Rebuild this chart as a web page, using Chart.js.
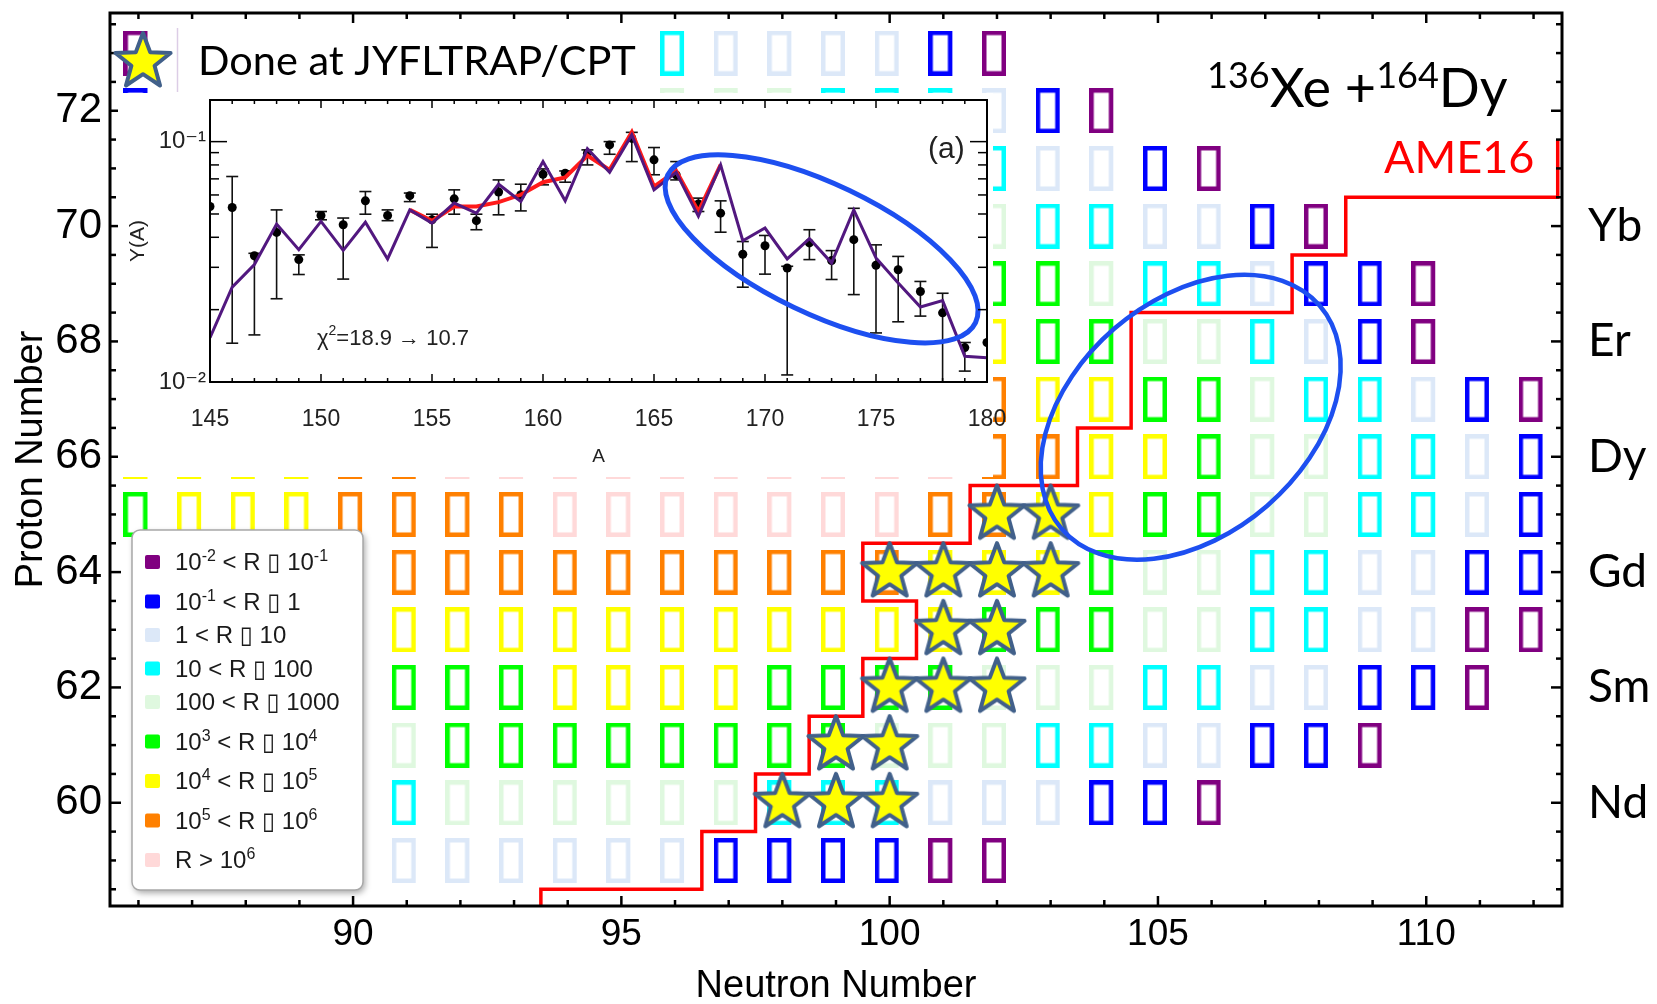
<!DOCTYPE html>
<html>
<head>
<meta charset="utf-8">
<title>136Xe + 164Dy production rates</title>
<script src="https://cdn.jsdelivr.net/npm/chart.js@4.4.1/dist/chart.umd.min.js"></script>
<style>
  html, body { margin: 0; padding: 0; background: #fff; }
  #wrap { position: relative; width: 1657px; height: 1004px; overflow: hidden; }
  #main { position: absolute; left: 0; top: 0; }
  #inset { position: absolute; left: 118px; top: 93px; }
</style>
</head>
<body>
<div id="wrap">
  <canvas id="main" width="1657" height="1004"></canvas>
  <canvas id="inset" width="900" height="384"></canvas>
</div>
<script>
// nuclide chart - one string per proton row, one letter per neutron number ('.' = no cell)
const rowZ     = [59, 60, 61, 62, 63, 64, 65, 66, 67, 68, 69, 70, 71, 72, 73];
const rowStart = [91, 91, 91, 91, 91, 91, 86, 86, 102, 102, 102, 102, 102, 86, 86];
const rowCells = [
  'LLLLLLBBBBPP',
  'CGGGGGGCCCLLLBBP',
  'GEEEEEEEEGGGCCLLBBP',
  'EEEYYYYEEEEGGGCCLLBBP',
  'YYYYYYYYYYYEEEGGCCLLPP',
  'OOOOOOOOOOYYYEGGCCLLBB',
  'EYYYOOOOKKKKKKKOOYYEEGGCCLB',
  'YYYYOOKKKKKKKKKKOOYYEGGCCLB',
  'OYYEEGCCLBP',
  'YEEGGCLBP',
  'EEGCCLBBP',
  'GCCLLBP',
  'CLLBP',
  'B.........GGGCCCLBP',
  'P.........CLLLLBP'
];

// rate classes
const rateKeys   = ['P', 'B', 'L', 'C', 'G', 'E', 'Y', 'O', 'K'];
const rateColors = ['#800080', '#0000ff', '#dce8f8', '#00ffff', '#dff8df', '#00ff00', '#ffff00', '#ff8000', '#ffd9d9'];
const rateLabels = [
  '10^{-2} < R ▯ 10^{-1}',
  '10^{-1} < R ▯ 1',
  '1 < R ▯ 10',
  '10 < R ▯ 100',
  '100 < R ▯ 1000',
  '10^{3} < R ▯ 10^{4}',
  '10^{4} < R ▯ 10^{5}',
  '10^{5} < R ▯ 10^{6}',
  'R > 10^{6}'
];

// masses measured at JYFLTRAP/CPT
const starN = [102, 103, 100, 101, 102, 103, 101, 102, 100, 101, 102, 99, 100, 98, 99, 100];
const starZ = [65, 65, 64, 64, 64, 64, 63, 63, 62, 62, 62, 61, 61, 60, 60, 60];

// AME16 known-mass boundary
const ameN = [93.5, 93.5, 96.5, 96.5, 97.5, 97.5, 98.5, 98.5, 99.5, 99.5, 100.5, 100.5, 99.5, 99.5,
              101.5, 101.5, 103.5, 103.5, 104.5, 104.5, 107.5, 107.5, 108.5, 108.5, 112.45, 112.45];
const ameZ = [58, 58.5, 58.5, 59.5, 59.5, 60.5, 60.5, 61.5, 61.5, 62.5, 62.5, 63.5, 63.5, 64.5,
              64.5, 65.5, 65.5, 66.5, 66.5, 68.5, 68.5, 69.5, 69.5, 70.5, 70.5, 71.5];

const neutronTicks = [90, 95, 100, 105, 110];
const protonTicks  = [60, 62, 64, 66, 68, 70, 72];
const elementZ     = [60, 62, 64, 66, 68, 70];
const elementNames = ['Nd', 'Sm', 'Gd', 'Dy', 'Er', 'Yb'];

// inset (a): mass yields Y(A)
const massA = [145, 146, 147, 148, 149, 150, 151, 152, 153, 154, 155, 156, 157, 158, 159, 160, 161, 162,
               163, 164, 165, 166, 167, 168, 169, 170, 171, 172, 173, 174, 175, 176, 177, 178, 179, 180];
const yieldExp = [0.0537, 0.0532, 0.0335, 0.0419, 0.0323, 0.0493, 0.0451, 0.0567, 0.0493, 0.0596, 0.0473, 0.0578,
                  0.0469, 0.0617, 0.0601, 0.0732, 0.0739, 0.0895, 0.0969, 0.1031, 0.0840, 0.0727, 0.0550, 0.0504,
                  0.0340, 0.0369, 0.0298, 0.0379, 0.0320, 0.0391, 0.0306, 0.0293, 0.0238, 0.0194, 0.0139, 0.0146];
const yieldErrHi = [null, 0.0716, 0.0343, 0.0520, 0.0338, 0.0512, 0.0481, 0.0620, 0.0520, 0.0611, 0.0499, 0.0630,
                    0.0499, 0.0693, 0.0665, 0.0770, 0.0755, 0.0924, 0.1000, 0.1093, 0.0945, 0.0826, 0.0582, 0.0567,
                    0.0384, 0.0407, 0.0303, 0.0430, 0.0352, 0.0528, 0.0372, 0.0333, 0.0262, 0.0234, 0.0146, null];
const yieldErrLo = [null, 0.0145, 0.0157, 0.0222, 0.0280, 0.0473, 0.0268, 0.0499, 0.0469, 0.0563, 0.0363, 0.0499,
                    0.0430, 0.0496, 0.0515, 0.0661, 0.0678, 0.0800, 0.0886, 0.0826, 0.0728, 0.0693, 0.0512, 0.0420,
                    0.0248, 0.0281, 0.0107, 0.0323, 0.0267, 0.0231, 0.0160, 0.0178, 0.0188, 0.0100, 0.0111, null];
const yieldModel = [0.0153, 0.0248, 0.0308, 0.0454, 0.0355, 0.0466, 0.0353, 0.0462, 0.0325, 0.0520, 0.0458, 0.0555,
                    0.0504, 0.0665, 0.0564, 0.0826, 0.0567, 0.0935, 0.0746, 0.1066, 0.0630, 0.0746, 0.0489, 0.0800,
                    0.0387, 0.0437, 0.0325, 0.0395, 0.0313, 0.0520, 0.0328, 0.0258, 0.0205, 0.0218, 0.0128, 0.0126];
const redA = [154, 155, 156, 157, 158, 159, 160, 161, 162, 163, 164, 165, 166, 167, 168];
const yieldModelRed = [0.0520, 0.0468, 0.0537, 0.0537, 0.0560, 0.0601, 0.0678, 0.0709, 0.0875, 0.0763,
                       0.1093, 0.0650, 0.0755, 0.0512, 0.0800];
const massTicks = [145, 150, 155, 160, 165, 170, 175, 180];
const yieldTicks = [0.01, 0.1];
const yieldTickLabels = ['10⁻²', '10⁻¹'];

const LATO = "Lato, 'Open Sans', sans-serif";
const ARIAL = "'Liberation Sans', Arial, 'DejaVu Sans', sans-serif";
Chart.defaults.font.family = ARIAL;
Chart.defaults.color = '#000';

// fixed axis box, and no extra room for labels hanging over the ends
function fixBox(size) {
  return s => {
    if (s.isHorizontal()) s.height = size; else s.width = size;
    s.paddingLeft = s.paddingRight = s.paddingTop = s.paddingBottom = 0;
  };
}

// outlined cell, drawn a little left of the tick like the original glyph boxes
function cellImage(color) {
  const c = document.createElement('canvas');
  c.width = 30; c.height = 45;
  const g = c.getContext('2d');
  g.strokeStyle = color;
  g.lineWidth = 4.5;
  g.strokeRect(2.25, 2.25, 19.5, 40.5);
  return c;
}

function starImage(r, inner, fill, stroke, lw) {
  const s = Math.ceil(2 * r + 2 * lw + 4);
  const c = document.createElement('canvas');
  c.width = s; c.height = s;
  const g = c.getContext('2d');
  g.translate(s / 2, s / 2);
  g.beginPath();
  for (let k = 0; k < 10; k++) {
    const rad = k % 2 ? r * inner : r;
    const a = -Math.PI / 2 + k * Math.PI / 5;
    g.lineTo(rad * Math.cos(a), rad * Math.sin(a));
  }
  g.closePath();
  g.fillStyle = fill;
  g.fill();
  g.lineJoin = 'round';
  g.lineWidth = lw;
  g.strokeStyle = stroke;
  g.stroke();
  return c;
}

function roundRect(ctx, x, y, w, h, r) {
  ctx.beginPath();
  ctx.moveTo(x + r, y);
  ctx.arcTo(x + w, y, x + w, y + h, r);
  ctx.arcTo(x + w, y + h, x, y + h, r);
  ctx.arcTo(x, y + h, x, y, r);
  ctx.arcTo(x, y, x + w, y, r);
  ctx.closePath();
}

function line(ctx, x1, y1, x2, y2) {
  ctx.beginPath();
  ctx.moveTo(x1, y1);
  ctx.lineTo(x2, y2);
  ctx.stroke();
}

// text with ^{...} superscripts
function drawRich(ctx, text, x, y, size, supSize, rise, family) {
  const parts = text.split(/\^\{([^}]*)\}/);
  parts.forEach((p, i) => {
    const sup = i % 2 === 1;
    ctx.font = `${sup ? supSize : size}px ${family}`;
    ctx.fillText(p, x, sup ? y - rise : y);
    x += ctx.measureText(p).width;
  });
  return x;
}

const cellIcons = rateColors.map(cellImage);
const starIcon = starImage(29, 0.42, '#ffff00', '#41608a', 4);

const cellSets = rateKeys.map((k, i) => ({
  label: rateLabels[i],
  data: [],
  pointStyle: cellIcons[i],
  pointRadius: 12,
  order: 3
}));
rowZ.forEach((z, r) => {
  [...rowCells[r]].forEach((ch, j) => {
    const idx = rateKeys.indexOf(ch);
    if (idx >= 0) cellSets[idx].data.push({ x: rowStart[r] + j, y: z });
  });
});

const mainOverlay = {
  id: 'mainOverlay',
  afterDatasetsDraw(chart) {
    const { ctx, scales: { x, y } } = chart;
    ctx.save();
    ctx.beginPath();
    ctx.ellipse(x.getPixelForValue(105.61), y.getPixelForValue(66.685), 170.6, 117, -40.9 * Math.PI / 180, 0, 2 * Math.PI);
    ctx.lineWidth = 4.5;
    ctx.strokeStyle = '#1d4ff0';
    ctx.stroke();
    ctx.restore();
  },
  afterDraw(chart) {
    const { ctx, chartArea: a, scales: { x, y } } = chart;
    ctx.save();

    // frame with inward ticks
    ctx.strokeStyle = '#000';
    ctx.lineWidth = 2.5;
    for (let n = 86; n <= 112; n++) {
      const px = x.getPixelForValue(n), len = n % 5 === 0 ? 10 : 6;
      line(ctx, px, a.bottom, px, a.bottom - len);
      line(ctx, px, a.top, px, a.top + len);
    }
    for (let z = 58.5; z <= 73.5; z += 0.5) {
      const py = y.getPixelForValue(z), len = z % 2 === 0 ? 11 : 6;
      line(ctx, a.left, py, a.left + len, py);
      line(ctx, a.right, py, a.right - len, py);
    }
    ctx.lineWidth = 3;
    ctx.strokeRect(a.left, a.top, a.right - a.left, a.bottom - a.top);

    // reaction label
    ctx.fillStyle = '#000';
    ctx.textBaseline = 'alphabetic';
    ctx.textAlign = 'left';
    let tx = 1207;
    [['136', 36, 88], ['Xe +', 54, 107], ['164', 36, 88], ['Dy', 54, 107]].forEach(([t, s, by]) => {
      ctx.font = `${s}px ${LATO}`;
      ctx.fillText(t, tx, by);
      tx += ctx.measureText(t).width;
    });
    ctx.fillStyle = '#ff0000';
    ctx.font = `45px ${LATO}`;
    ctx.fillText('AME16', 1384, 173);

    // measured-mass key
    ctx.strokeStyle = '#dccde6';
    ctx.lineWidth = 1.5;
    line(ctx, 177.5, 28, 177.5, 92);
    ctx.drawImage(starIcon, 143 - starIcon.width / 2, 62 - starIcon.height / 2);
    ctx.fillStyle = '#000';
    ctx.font = `41.5px ${LATO}`;
    ctx.fillText('Done at JYFLTRAP/CPT', 198, 75);

    // rate legend
    ctx.save();
    ctx.shadowColor = 'rgba(0,0,0,0.35)';
    ctx.shadowBlur = 6;
    ctx.shadowOffsetX = 2;
    ctx.shadowOffsetY = 3;
    roundRect(ctx, 132, 530, 231, 360, 8);
    ctx.fillStyle = '#fff';
    ctx.fill();
    ctx.restore();
    roundRect(ctx, 132, 530, 231, 360, 8);
    ctx.strokeStyle = '#a8a8a8';
    ctx.lineWidth = 1.5;
    ctx.stroke();
    let base = 570;
    rateLabels.forEach((t, i) => {
      if (i > 0) base += t.includes('^') ? 39.5 : 33.5;
      ctx.fillStyle = rateColors[i];
      roundRect(ctx, 145, base - 15, 15, 14, 2);
      ctx.fill();
      ctx.fillStyle = '#1a1a1a';
      drawRich(ctx, t, 175, base, 24, 16, 9, ARIAL);
    });

    ctx.restore();
  }
};

new Chart(document.getElementById('main'), {
  type: 'scatter',
  data: {
    datasets: [
      ...cellSets,
      {
        label: 'AME16',
        data: ameN.map((n, i) => ({ x: n, y: ameZ[i] })),
        showLine: true,
        borderColor: '#ff0000',
        borderWidth: 3.5,
        pointRadius: 0,
        order: 2
      },
      {
        label: 'Done at JYFLTRAP/CPT',
        data: starN.map((n, i) => ({ x: n, y: starZ[i] })),
        pointStyle: starIcon,
        pointRadius: 30,
        order: 1
      }
    ]
  },
  options: {
    responsive: false,
    animation: false,
    events: [],
    layout: { autoPadding: false, padding: { top: 13, left: 0, right: 0, bottom: 0 } },
    plugins: { legend: { display: false }, tooltip: { enabled: false } },
    scales: {
      x: {
        type: 'linear', min: 85.47, max: 112.53,
        grid: { display: false, drawTicks: false },
        border: { display: false },
        afterBuildTicks: s => { s.ticks = neutronTicks.map(v => ({ value: v })); },
        afterFit: fixBox(98),
        ticks: { font: { size: 37 }, padding: 7, autoSkip: false, maxRotation: 0 },
        title: { display: true, text: 'Neutron Number', font: { size: 38, lineHeight: 1 }, padding: { bottom: -2 } }
      },
      y: {
        type: 'linear', min: 58.21, max: 73.695,
        grid: { display: false, drawTicks: false },
        border: { display: false },
        afterBuildTicks: s => { s.ticks = protonTicks.map(v => ({ value: v })); },
        afterFit: fixBox(110),
        ticks: { font: { size: 42 }, padding: 8, autoSkip: false },
        title: { display: true, text: 'Proton Number', font: { size: 38 }, padding: { top: 9 } }
      },
      y2: {
        type: 'linear', position: 'right', min: 58.21, max: 73.695,
        grid: { display: false, drawTicks: false },
        border: { display: false },
        afterBuildTicks: s => { s.ticks = elementZ.map(v => ({ value: v })); },
        afterFit: fixBox(95),
        ticks: {
          font: { size: 46, family: LATO }, padding: 26, autoSkip: false,
          callback: v => elementNames[elementZ.indexOf(v)] ?? ''
        }
      }
    }
  },
  plugins: [mainOverlay]
});

// inset overlay: white panel, error bars, frame, annotations
const INSET_PANEL_W = 875;
const insetOverlay = {
  id: 'insetOverlay',
  beforeDraw(chart) {
    const { ctx, height } = chart;
    ctx.save();
    ctx.fillStyle = '#fff';
    ctx.fillRect(0, 0, INSET_PANEL_W, height);
    ctx.restore();
  },
  beforeDatasetsDraw(chart) {
    const { ctx, chartArea: a, scales: { x, y } } = chart;
    ctx.save();
    ctx.beginPath();
    ctx.rect(a.left, a.top, a.right - a.left, a.bottom - a.top);
    ctx.clip();
    ctx.strokeStyle = '#111';
    ctx.lineWidth = 1.6;
    massA.forEach((m, i) => {
      if (yieldErrHi[i] == null) return;
      const px = x.getPixelForValue(m);
      const hi = y.getPixelForValue(yieldErrHi[i]);
      const lo = y.getPixelForValue(yieldErrLo[i]);
      line(ctx, px, hi, px, lo);
      line(ctx, px - 6, hi, px + 6, hi);
      line(ctx, px - 6, lo, px + 6, lo);
    });
    ctx.restore();
  },
  afterDatasetsDraw(chart) {
    const { ctx, scales: { x, y } } = chart;
    ctx.save();
    ctx.beginPath();
    ctx.ellipse(x.getPixelForValue(172.55), y.getPixelForValue(0.0358), 170.7, 64.7, 25.6 * Math.PI / 180, 0, 2 * Math.PI);
    ctx.lineWidth = 5;
    ctx.strokeStyle = '#1d4ff0';
    ctx.stroke();
    ctx.restore();
  },
  afterDraw(chart) {
    const { ctx, chartArea: a, scales: { x, y } } = chart;
    ctx.save();
    ctx.strokeStyle = '#000';
    ctx.lineWidth = 1.5;
    for (let m = 145; m <= 180; m++) {
      const px = x.getPixelForValue(m), len = m % 5 === 0 ? 8 : 4;
      line(ctx, px, a.bottom, px, a.bottom - len);
      line(ctx, px, a.top, px, a.top + len);
    }
    [0.01, 0.02, 0.03, 0.04, 0.05, 0.06, 0.07, 0.08, 0.09, 0.1].forEach(v => {
      const py = y.getPixelForValue(v), len = (v === 0.1 || v === 0.01) ? 17 : 9;
      line(ctx, a.left, py, a.left + len, py);
      line(ctx, a.right, py, a.right - len, py);
    });
    ctx.lineWidth = 2;
    ctx.strokeRect(a.left, a.top, a.right - a.left, a.bottom - a.top);

    ctx.fillStyle = '#222';
    ctx.textBaseline = 'alphabetic';
    ctx.font = `30px ${ARIAL}`;
    ctx.fillText('(a)', 810, 65);
    let cx = 199;
    ctx.font = `22px ${ARIAL}`;
    ctx.fillText('χ', cx, 252);
    cx += ctx.measureText('χ').width;
    ctx.font = `14px ${ARIAL}`;
    ctx.fillText('2', cx, 242);
    cx += ctx.measureText('2').width;
    ctx.font = `22px ${ARIAL}`;
    ctx.fillText('=18.9 → 10.7', cx, 252);
    ctx.restore();
  }
};

new Chart(document.getElementById('inset'), {
  type: 'scatter',
  data: {
    datasets: [
      {
        label: 'Y(A) data',
        data: massA.map((m, i) => ({ x: m, y: yieldExp[i] })),
        pointRadius: 4.5,
        backgroundColor: '#000',
        borderColor: '#000',
        borderWidth: 0,
        order: 3
      },
      {
        label: 'model (red)',
        data: redA.map((m, i) => ({ x: m, y: yieldModelRed[i] })),
        showLine: true,
        borderColor: '#ff1a1a',
        borderWidth: 4,
        pointRadius: 0,
        order: 2
      },
      {
        label: 'model',
        data: massA.map((m, i) => ({ x: m, y: yieldModel[i] })),
        showLine: true,
        borderColor: '#52187f',
        borderWidth: 3,
        pointRadius: 0,
        order: 1
      }
    ]
  },
  options: {
    responsive: false,
    animation: false,
    events: [],
    layout: { autoPadding: false, padding: { top: 7, right: 31, left: 0, bottom: 0 } },
    plugins: { legend: { display: false }, tooltip: { enabled: false } },
    scales: {
      x: {
        type: 'linear', min: 145, max: 180,
        grid: { display: false, drawTicks: false },
        border: { display: false },
        afterBuildTicks: s => { s.ticks = massTicks.map(v => ({ value: v })); },
        afterFit: fixBox(95),
        ticks: { font: { size: 23 }, color: '#222', padding: 24, autoSkip: false, maxRotation: 0 },
        title: { display: true, text: 'A', font: { size: 19 }, color: '#222', padding: { bottom: 9 } }
      },
      y: {
        type: 'logarithmic', min: 0.01, max: 0.149,
        grid: { display: false, drawTicks: false },
        border: { display: false },
        afterBuildTicks: s => { s.ticks = yieldTicks.map(v => ({ value: v })); },
        afterFit: fixBox(92),
        ticks: { font: { size: 24 }, color: '#222', padding: 4, autoSkip: false, callback: (v, i) => yieldTickLabels[i] },
        title: { display: true, text: 'Y(A)', font: { size: 21 }, color: '#222', padding: { top: 8 } }
      }
    }
  },
  plugins: [insetOverlay]
});
</script>
</body>
</html>
